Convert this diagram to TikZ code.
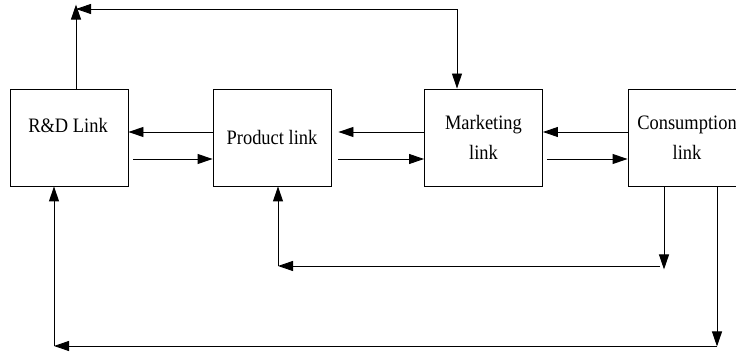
\documentclass[tikz,border=0pt]{standalone}
\usepackage{fontspec}
\setmainfont{Liberation Serif}[FakeStretch=0.9]
\usetikzlibrary{arrows.meta}

\begin{document}
\begin{tikzpicture}[x=1pt,y=-1pt,line width=0.9pt,
  box/.style={draw,rectangle,minimum width=118pt,minimum height=97pt,inner sep=0pt},
  arr/.style={-{Triangle[length=15pt,width=10pt]}},
  every node/.style={font=\fontsize{20.5}{30}\selectfont,align=center}]
\useasboundingbox (0,0) rectangle (736,352);
\clip (0,0) rectangle (736,352);
\node (rd)[box] at (69,137.5) {};
\node (rdtxt) at (68,125) {R\&D Link};
\node (prod)[box] at (272,137.5) {Product link};
\node (mkt)[box] at (483.5,137.5) {Marketing\\link};
\node (cons)[box] at (687,137.5) {Consumption\\link};
\coordinate (up) at (0,132);
\coordinate (lo) at (0,159);
\foreach \a/\b/\ga/\gb in {rd/prod/0/5,prod/mkt/7/7,mkt/cons/0/4}
{\draw[arr,shorten >=\ga pt] (\b.west|-up) -- (\a.east|-up);
 \draw[arr,shorten <=\gb pt] (\a.east|-lo) -- (\b.west|-lo);}
% top loop
\coordinate (ret) at (76,9);
\draw[arr] ([xshift=7pt]rd.north) -- ++(0,-84);
\draw[{Triangle[length=15pt,width=10pt]}-{Triangle[length=15pt,width=10pt]}] (ret) -| ([xshift=-26.5pt]mkt.north);
% bottom loops
\coordinate (c1) at ([xshift=-23pt]cons.south);
\coordinate (c2) at ([xshift=30pt]cons.south);
\coordinate (m1) at (660,266);
\coordinate (k1) at (278,266);
\coordinate (m2) at (717,346);
\coordinate (k2) at (54,346);
\draw[arr] (c1) -- ++(0,83);
\draw[arr] (m1) -- (k1);
\draw[arr] (k1) -- (k1|-prod.south);
\draw[arr] (c2) -- ++(0,160);
\draw[arr] (m2) -- (k2);
\draw[arr] (k2) -- (k2|-rd.south);
\end{tikzpicture}
\end{document}
